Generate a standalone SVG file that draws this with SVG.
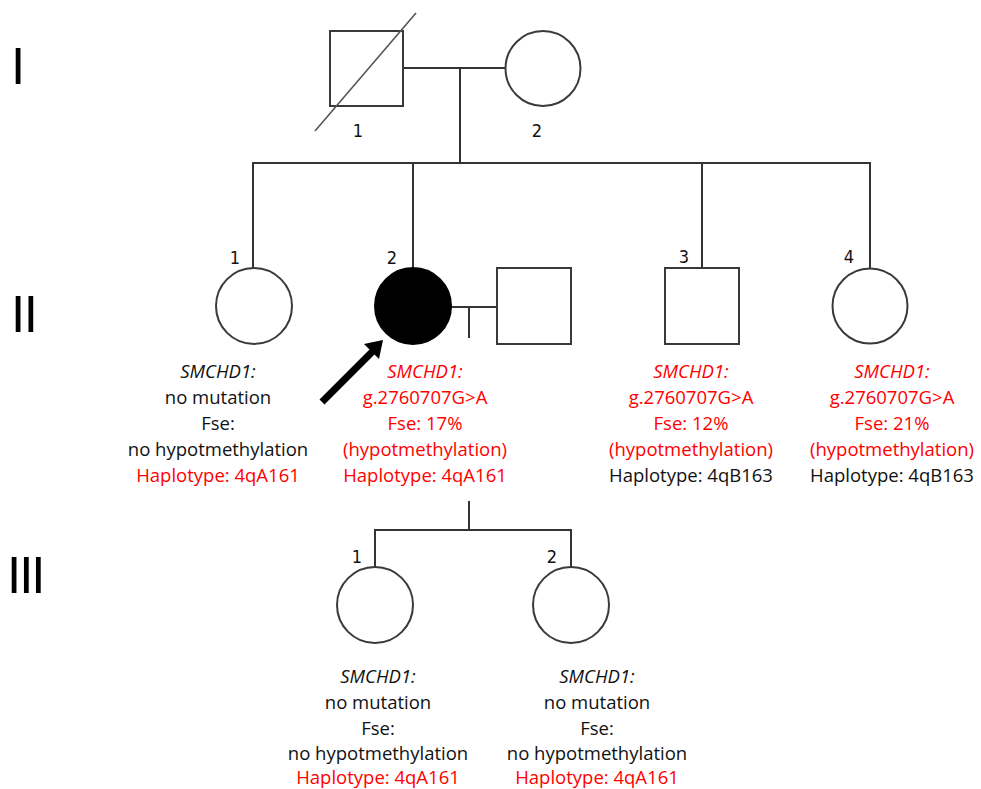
<svg xmlns="http://www.w3.org/2000/svg" width="981" height="789" viewBox="0 0 981 789">
<style>
.ln{stroke:#333;stroke-width:2;fill:none}
.sym{stroke:#3a3a3a;stroke-width:2;fill:#fff}
.fill{stroke:#000;stroke-width:2;fill:#000}
.num{font-family:"DejaVu Sans Condensed","DejaVu Sans",sans-serif;font-size:18px;fill:#111;text-anchor:middle}
.gen{font-family:"Liberation Sans",Arial,sans-serif;font-size:51px;fill:#000}
.t{font-family:"Open Sans","Noto Sans",sans-serif;font-size:18.5px;text-anchor:middle;fill:#111}
.r{fill:#ff0000}
.i{font-style:italic}
</style>
<rect width="981" height="789" fill="#fff"/>
<g id="generations">
<text class="gen" x="11" y="84">I</text>
<text class="gen" x="11" y="332" letter-spacing="-1.5">II</text>
<text class="gen" x="7" y="593" letter-spacing="-2">III</text>
</g>
<g id="connectors">
<line class="ln" x1="404" y1="68" x2="505" y2="68"/>
<line class="ln" x1="460" y1="68" x2="460" y2="163"/>
<line class="ln" x1="253" y1="163" x2="871" y2="163"/>
<line class="ln" x1="253" y1="162" x2="253" y2="268"/>
<line class="ln" x1="413" y1="162" x2="413" y2="268"/>
<line class="ln" x1="702" y1="162" x2="702" y2="268"/>
<line class="ln" x1="870" y1="162" x2="870" y2="268"/>
<line class="ln" x1="451" y1="307" x2="497" y2="307"/>
<line class="ln" x1="469" y1="307" x2="469" y2="338"/>
<line class="ln" x1="469" y1="501" x2="469" y2="530"/>
<line class="ln" x1="375" y1="530" x2="571" y2="530"/>
<line class="ln" x1="375" y1="529" x2="375" y2="567"/>
<line class="ln" x1="571" y1="529" x2="571" y2="567"/>
</g>
<g id="I-1">
<rect class="sym" x="330" y="31" width="73" height="75"/>
<line x1="315" y1="131" x2="416" y2="13" stroke="#555" stroke-width="1.6"/>
<text class="num" x="358" y="137">1</text>
</g>
<g id="I-2">
<circle class="sym" cx="543" cy="68.5" r="37.5"/>
<text class="num" x="537" y="137">2</text>
</g>
<g id="II-1">
<circle class="sym" cx="254" cy="306" r="38"/>
<text class="num" x="235" y="264">1</text>
<text class="t i" x="218" y="378">SMCHD1:</text>
<text class="t" x="218" y="404">no mutation</text>
<text class="t" x="218" y="430">Fse:</text>
<text class="t" x="218" y="456">no hypotmethylation</text>
<text class="t r" x="218" y="482">Haplotype: 4qA161</text>
</g>
<g id="II-2">
<circle class="fill" cx="413" cy="306" r="38"/>
<text class="num" x="392" y="264">2</text>
<text class="t i r" x="425" y="378">SMCHD1:</text>
<text class="t r" x="425" y="404">g.2760707G&gt;A</text>
<text class="t r" x="425" y="430">Fse: 17%</text>
<text class="t r" x="425" y="456">(hypotmethylation)</text>
<text class="t r" x="425" y="482">Haplotype: 4qA161</text>
</g>
<g id="proband-arrow">
<line x1="322" y1="402" x2="373" y2="351" stroke="#000" stroke-width="7"/>
<polygon points="383,340 364,344 379,359" fill="#000"/>
</g>
<g id="II-2-spouse">
<rect class="sym" x="497" y="268" width="74" height="76"/>
</g>
<g id="II-3">
<rect class="sym" x="665" y="268" width="74" height="76"/>
<text class="num" x="684" y="263">3</text>
<text class="t i r" x="691" y="378">SMCHD1:</text>
<text class="t r" x="691" y="404">g.2760707G&gt;A</text>
<text class="t r" x="691" y="430">Fse: 12%</text>
<text class="t r" x="691" y="456">(hypotmethylation)</text>
<text class="t" x="691" y="482">Haplotype: 4qB163</text>
</g>
<g id="II-4">
<circle class="sym" cx="870" cy="306" r="37.5"/>
<text class="num" x="849" y="263">4</text>
<text class="t i r" x="892" y="378">SMCHD1:</text>
<text class="t r" x="892" y="404">g.2760707G&gt;A</text>
<text class="t r" x="892" y="430">Fse: 21%</text>
<text class="t r" x="892" y="456">(hypotmethylation)</text>
<text class="t" x="892" y="482">Haplotype: 4qB163</text>
</g>
<g id="III-1">
<circle class="sym" cx="375" cy="605" r="38"/>
<text class="num" x="357" y="563">1</text>
<text class="t i" x="378" y="683">SMCHD1:</text>
<text class="t" x="378" y="709">no mutation</text>
<text class="t" x="378" y="735">Fse:</text>
<text class="t" x="378" y="760">no hypotmethylation</text>
<text class="t r" x="378" y="784">Haplotype: 4qA161</text>
</g>
<g id="III-2">
<circle class="sym" cx="571" cy="605" r="38"/>
<text class="num" x="552" y="563">2</text>
<text class="t i" x="597" y="683">SMCHD1:</text>
<text class="t" x="597" y="709">no mutation</text>
<text class="t" x="597" y="735">Fse:</text>
<text class="t" x="597" y="760">no hypotmethylation</text>
<text class="t r" x="597" y="784">Haplotype: 4qA161</text>
</g>
</svg>
